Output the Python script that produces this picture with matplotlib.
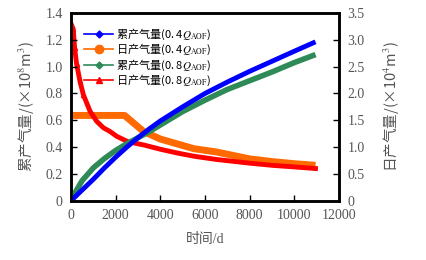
import matplotlib
matplotlib.use("Agg")
import matplotlib.pyplot as plt
from matplotlib.lines import Line2D

plt.rcParams["font.family"] = ["Liberation Serif", "Noto Sans CJK SC"]
plt.rcParams["mathtext.fontset"] = "stix"

# cumulative gas (1e8 m3), left axis
t_cum = [0, 500, 1000, 1500, 2000, 2500, 3000, 3500, 4000, 5000, 6000, 7000, 8000, 9000, 10000, 10950]
cum_04 = [0, 0.08, 0.16, 0.245, 0.325, 0.40, 0.47, 0.535, 0.595, 0.70, 0.80, 0.885, 0.965, 1.04, 1.115, 1.185]
t_cum8 = [0, 250, 500, 1000, 1500, 2000, 2500, 3000, 3500, 4000, 5000, 6000, 7000, 8000, 9000, 10000, 10950]
cum_08 = [0, 0.08, 0.15, 0.245, 0.315, 0.375, 0.425, 0.47, 0.515, 0.565, 0.665, 0.75, 0.83, 0.895, 0.96, 1.03, 1.09]

# daily gas (1e4 m3), right axis
t_d04 = [0, 2400, 3250, 4000, 4750, 5500, 6500, 8000, 9000, 10000, 10950]
day_04 = [1.59, 1.59, 1.29, 1.15, 1.06, 0.97, 0.91, 0.78, 0.73, 0.69, 0.66]
t_d08 = [0, 100, 160, 250, 400, 550, 850, 1150, 1450, 1750, 2050, 2550, 3250, 4000, 4750,
         5500, 6500, 8000, 9000, 10000, 10950]
day_08 = [3.3, 3.2, 2.85, 2.55, 2.23, 1.98, 1.67, 1.48, 1.36, 1.29, 1.20, 1.10, 1.04, 0.96, 0.89,
          0.83, 0.77, 0.70, 0.66, 0.63, 0.60]

x_ticks = [0, 2000, 4000, 6000, 8000, 10000, 12000]
left_ticks = [0, 0.2, 0.4, 0.6, 0.8, 1.0, 1.2, 1.4]
left_labels = ["0", "0.2", "0.4", "0.6", "0.8", "1.0", "1.2", "1.4"]
right_ticks = [0, 0.5, 1.0, 1.5, 2.0, 2.5, 3.0, 3.5]
right_labels = ["0", "0.5", "1.0", "1.5", "2.0", "2.5", "3.0", "3.5"]

names = [r"累产气量(0. 4$Q_{\rm AOF}$)", r"日产气量(0. 4$Q_{\rm AOF}$)",
         r"累产气量(0. 8$Q_{\rm AOF}$)", r"日产气量(0. 8$Q_{\rm AOF}$)"]

blue, orange, green, red = "#0000ff", "#ff6a00", "#2e8b57", "#ff0000"
gray = "#555555"
cjk = "Noto Sans CJK SC"

fig = plt.figure(figsize=(4.26, 2.6), dpi=100)
ax = fig.add_axes([0.1667, 0.228, 0.629, 0.722])
ax2 = ax.twinx()

ax2.plot(t_d04, day_04, color=orange, lw=5, solid_capstyle="butt")
ax2.plot(t_d08, day_08, color=red, lw=3.5, marker="^", markersize=3, markevery=[0, 1, 2, 3, 4, 5])
ax.plot(t_cum8, cum_08, color=green, lw=4, solid_capstyle="butt")
ax.plot(t_cum, cum_04, color=blue, lw=3.5, solid_capstyle="butt")
ax.set_zorder(ax2.get_zorder() + 1)
ax.patch.set_visible(False)

ax.set_xlim(0, 12000)
ax.set_ylim(0, 1.4)
ax2.set_ylim(0, 3.5)
ax.set_xticks(x_ticks)
ax.set_xticklabels([str(v) for v in x_ticks])
ax.set_yticks(left_ticks)
ax.set_yticklabels(left_labels)
ax2.set_yticks(right_ticks)
ax2.set_yticklabels(right_labels)

for a in (ax, ax2):
    a.tick_params(direction="in", length=4, width=1, labelsize=10, labelcolor=gray, colors="black")
    for s in a.spines.values():
        s.set_linewidth(1.8)
ax.tick_params(axis="x", pad=6)
ax.tick_params(axis="y", pad=6)
ax2.tick_params(axis="y", pad=6)

ax.set_xlabel("时间/d", fontsize=10, color=gray, labelpad=8)
ax.set_ylabel(r"累产气量/(×10$^8$m$^3$)", fontsize=10.5, color=gray, labelpad=7, family=cjk)
ax2.set_ylabel(r"日产气量/(×10$^4$m$^3$)", fontsize=10.5, color=gray, labelpad=12, family=cjk)

handles = [
    Line2D([], [], color=blue, lw=1.2, marker="D", markersize=3.5),
    Line2D([], [], color=orange, lw=1.2, marker="o", markersize=6),
    Line2D([], [], color=green, lw=1.2, marker="D", markersize=3.5),
    Line2D([], [], color=red, lw=1.2, marker="^", markersize=4.5),
]
ax.legend(handles, names, loc="upper left", bbox_to_anchor=(0.02, 0.97), frameon=False,
          prop={"family": cjk, "size": 8}, handlelength=2.6, handletextpad=0.3,
          labelspacing=0.02, borderaxespad=0.3)

fig.savefig("out.png", dpi=100)
